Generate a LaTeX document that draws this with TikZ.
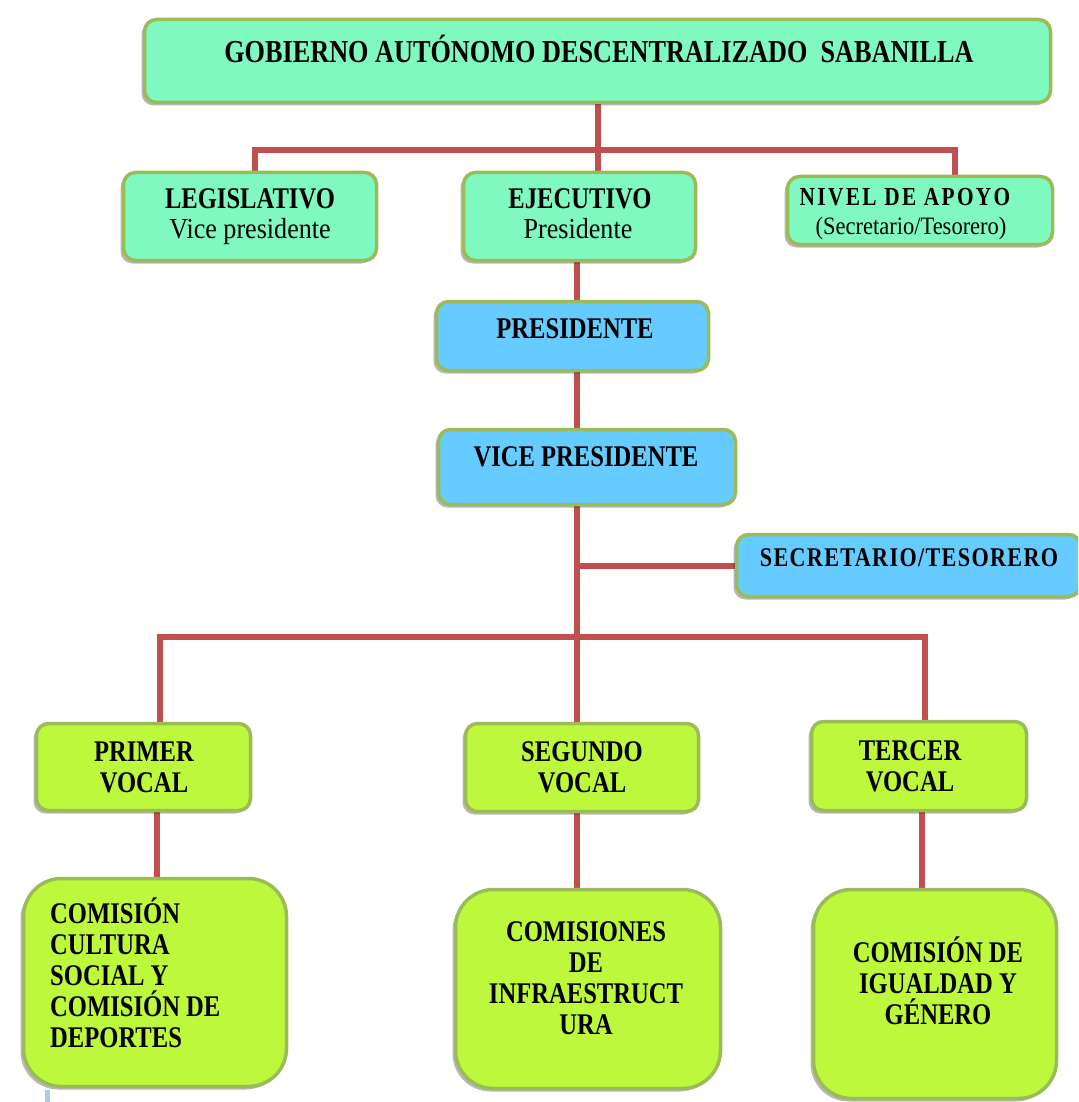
\documentclass[tikz,border=0pt]{standalone}
\usepackage{fontspec}
\newfontfamily\hfont{Liberation Serif}[FakeStretch=0.82]
\newfontfamily\rfont{Liberation Serif}[FakeStretch=0.9]
\usetikzlibrary{shadows,backgrounds}
\definecolor{mint}{HTML}{7FF9BF}
\definecolor{sky}{HTML}{66CCFF}
\definecolor{lime}{HTML}{BDF83C}
\definecolor{olive}{HTML}{9BBB59}
\definecolor{conred}{HTML}{C0504D}
\definecolor{paleblue}{HTML}{A8CCF0}
\begin{document}
\begin{tikzpicture}[x=1pt,y=-1pt,
  box/.style={draw=olive, line width=3.5pt, rounded corners=12pt, inner sep=0pt,
    drop shadow={shadow xshift=-3pt, shadow yshift=-3pt, fill=black, opacity=0.28}},
  bigbox/.style={box, rounded corners=38pt},
  conn/.style={draw=conred, line width=6pt},
  hd/.style={font=\hfont\bfseries\fontsize{30}{31}\selectfont, inner sep=0pt, text height=20pt, text depth=0pt},
  ml/.style={font=\hfont\bfseries\fontsize{30}{31}\selectfont, inner sep=0pt, align=center},
  rg/.style={font=\rfont\fontsize{29}{29}\selectfont, inner sep=0pt, text height=19pt, text depth=0pt},
  sm/.style={font=\rfont\fontsize{25}{25}\selectfont, inner sep=0pt, text height=17pt, text depth=0pt}
]
\useasboundingbox (0,0) rectangle (1078,1102);
\clip (0,0) rectangle (1078,1102);

% boxes
\node[box, fill=mint, minimum width=906pt, minimum height=83pt] (top) at (597.5,61) {};
\node[box, fill=mint, minimum width=253pt, minimum height=88pt] (leg) at (250,216.5) {};
\node[box, fill=mint, minimum width=232pt, minimum height=88pt] (ejec) at (579.5,216.5) {};
\node[box, fill=mint, minimum width=265pt, minimum height=68pt] (nivel) at (920,210.5) {};
\node[box, fill=sky, minimum width=272pt, minimum height=69pt] (pres) at (572.5,336) {};
\node[box, fill=sky, minimum width=297pt, minimum height=75pt] (vice) at (587,467) {};
\node[box, fill=sky, minimum width=344pt, minimum height=62pt] (sec) at (908.5,565.5) {};
\node[box, fill=lime, minimum width=214pt, minimum height=87pt] (prim) at (143.5,767) {};
\node[box, fill=lime, minimum width=233pt, minimum height=88pt] (seg) at (582,767.5) {};
\node[box, fill=lime, minimum width=215pt, minimum height=89pt] (terc) at (919,766) {};
\node[bigbox, fill=lime, minimum width=263pt, minimum height=208pt] (cult) at (155,982.5) {};
\node[bigbox, fill=lime, minimum width=265pt, minimum height=199pt] (infra) at (588,989) {};
\node[bigbox, fill=lime, minimum width=243pt, minimum height=209pt] (igual) at (935,994) {};

% helper coordinates for connector columns
\coordinate (j1) at (597.5,150);
\coordinate (xL) at (255,0);
\coordinate (xN) at (955,0);
\coordinate (xP) at (577,0);
\coordinate (bus) at (577,637);
\coordinate (x1) at (160,0);
\coordinate (x3) at (925,0);
\coordinate (y1) at (157,0);
\coordinate (y3) at (922,0);

\begin{pgfonlayer}{background}
\draw[conn] (top.south) -- (j1);
\draw[conn] (leg.north -| xL) -- (xL |- j1) -- (xN |- j1) -- (nivel.north -| xN);
\draw[conn] (j1) -- (ejec.north -| j1);
\draw[conn] (ejec.south -| xP) -- (pres.north -| xP);
\draw[conn] (pres.south -| xP) -- (vice.north -| xP);
\draw[conn] (vice.south -| xP) -- (bus);
\draw[conn] (sec.west) -- (sec.west -| xP);
\draw[conn] (prim.north -| x1) -- (x1 |- bus) -- (x3 |- bus) -- (terc.north -| x3);
\draw[conn] (bus) -- (seg.north -| xP);
\draw[conn] (prim.south -| y1) -- (cult.north -| y1);
\draw[conn] (seg.south -| xP) -- (infra.north -| xP);
\draw[conn] (terc.south -| y3) -- (igual.north -| y3);
\end{pgfonlayer}

% small pale blue fragment at bottom left
\draw[paleblue, line width=5pt] (47,1090) -- (47,1102);

% texts
\node[hd, font=\hfont\bfseries\fontsize{32}{32}\selectfont, text height=21pt] (topT) at (599,52) {GOBIERNO AUTÓNOMO DESCENTRALIZADO\ \ SABANILLA};
\node[hd] (legT1) at (250,198) {LEGISLATIVO};
\node[rg] (legT2) at (250,229) {Vice\ presidente};
\node[hd] (ejecT1) at (580,198) {EJECUTIVO};
\node[rg] (ejecT2) at (578,229) {Presidente};
\node[hd, font=\hfont\bfseries\fontsize{26}{26}\selectfont\addfontfeature{LetterSpace=9}, text height=17pt] (nivT1) at (905,197) {NIVEL DE APOYO};
\node[sm] (nivT2) at (911,226) {(Secretario/Tesorero)};
\node[hd] (presT) at (575,328) {PRESIDENTE};
\node[hd] (viceT) at (586,456) {VICE PRESIDENTE};
\node[hd, font=\hfont\bfseries\fontsize{27}{27}\selectfont\addfontfeature{LetterSpace=5}, text height=18pt] (secT) at (909,557) {SECRETARIO/TESORERO};
\node[ml] (primT) at (144,767.5) {PRIMER\\VOCAL};
\node[ml] (segT) at (582,767.5) {SEGUNDO\\VOCAL};
\node[ml] (tercT) at (910,766) {TERCER\\VOCAL};
\node[ml, align=left, anchor=west] (cultT) at (50,973) {COMISIÓN\\CULTURA\\SOCIAL Y\\COMISIÓN DE\\DEPORTES};
\node[ml] (infraT) at (586,978.5) {COMISIONES\\DE\\INFRAESTRUCT\\URA};
\node[ml] (igualT) at (938,981) {COMISIÓN DE\\IGUALDAD Y\\GÉNERO};
\end{tikzpicture}
\end{document}
